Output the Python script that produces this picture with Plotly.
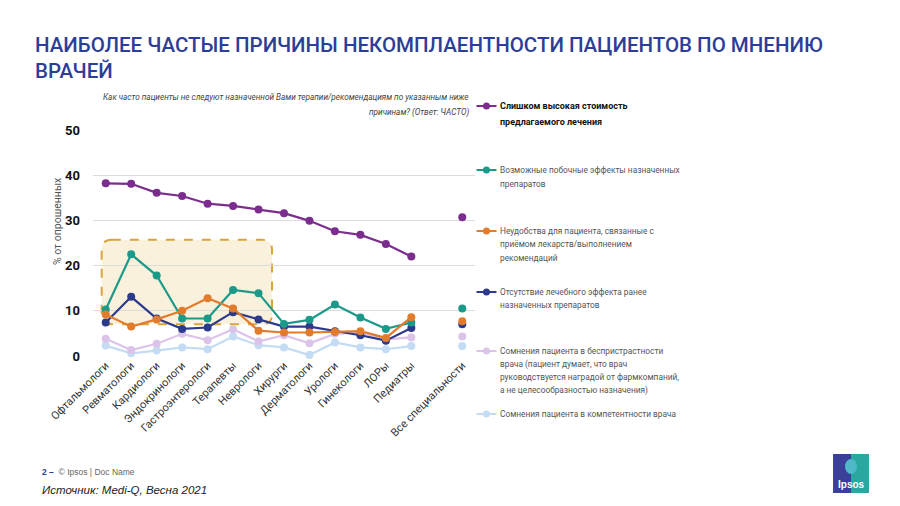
import plotly.graph_objects as go

# ---------------- data ----------------
CATEGORIES = ["Офтальмологи", "Ревматологи", "Кардиологи", "Эндокринологи",
              "Гастроэнтерологи", "Терапевты", "Неврологи", "Хирурги",
              "Дерматологи", "Урологи", "Гинекологи", "ЛОРы", "Педиатры"]
ALL_LABEL = "Все специальности"

SERIES_NAMES = [
    "Слишком высокая стоимость\nпредлагаемого лечения",
    "Возможные побочные эффекты назначенных\nпрепаратов",
    "Неудобства для пациента, связанные с\nприёмом лекарств/выполнением\nрекомендаций",
    "Отсутствие лечебного эффекта ранее\nназначенных препаратов",
    "Сомнения пациента в беспристрастности\nврача (пациент думает, что врач\nруководствуется наградой от фармкомпаний,\nа не целесообразностью назначения)",
    "Сомнения пациента в компетентности врача",
]

cost     = [38.2, 38.1, 36.1, 35.4, 33.7, 33.2, 32.4, 31.6, 29.9, 27.6, 26.8, 24.8, 22.0]
side     = [10.3, 22.5, 17.8, 8.3, 8.3, 14.6, 13.9, 7.1, 8.0, 11.4, 8.5, 6.0, 7.4]
inconv   = [9.2, 6.5, 8.1, 10.0, 12.8, 10.5, 5.6, 5.2, 5.2, 5.3, 5.5, 4.0, 8.6]
noeffect = [7.4, 13.1, 8.3, 6.0, 6.3, 9.7, 8.1, 6.5, 6.5, 5.5, 4.6, 3.4, 6.2]
bias     = [3.8, 1.3, 2.7, 4.9, 3.5, 5.9, 3.2, 4.6, 2.8, 4.9, 5.2, 3.7, 4.1]
compet   = [2.3, 0.6, 1.2, 1.9, 1.5, 4.3, 2.4, 1.9, 0.2, 3.0, 1.9, 1.5, 2.2]

ALL_VALUES = [30.7, 10.5, 7.7, 7.0, 4.3, 2.2]

Y_TICKS = [0, 10, 20, 30, 40, 50]

TITLE_LINES = ["НАИБОЛЕЕ ЧАСТЫЕ ПРИЧИНЫ НЕКОМПЛАЕНТНОСТИ ПАЦИЕНТОВ ПО МНЕНИЮ", "ВРАЧЕЙ"]
SUBTITLE_LINES = ["Как часто пациенты не следуют назначенной Вами терапии/рекомендациям по указанным ниже",
                  "причинам? (Ответ: ЧАСТО)"]

# ---------------- styles ----------------
COLORS = ["#7b2d8e", "#1b9a8a", "#e27c2c", "#2c3a8c", "#dcc3ea", "#c3dbf3"]
SERIES = [cost, side, inconv, noeffect, bias, compet]
DRAW_ORDER = [5, 4, 3, 1, 2, 0]

FONT = "Roboto, Liberation Sans, Arial, sans-serif"
SANS = "Liberation Sans, Arial, sans-serif"

# page coordinates (as seen in the 900x506 window); the html body adds an 8px margin
OFF = 8
W, H = 900 - OFF, 506 - OFF
PL, PR, PT, PB = 93, 475.5, 130, 356          # plot area in page pixels
L, R, T, B = PL - OFF, PR - OFF, PT - OFF, PB - OFF


def xp(px):
    return (px - PL) / (PR - PL)


def yp(py):
    return (PB - py) / (PB - PT)


x_pos = list(range(len(CATEGORIES)))
x_all = len(CATEGORIES) + 1
tick_vals = x_pos + [x_all]
tick_text = CATEGORIES + [ALL_LABEL]

fig = go.Figure()

for i in DRAW_ORDER:
    fig.add_trace(go.Scatter(
        x=x_pos, y=SERIES[i], mode="lines+markers",
        line=dict(color=COLORS[i], width=2.2),
        marker=dict(color=COLORS[i], size=8),
        cliponaxis=False, showlegend=False, hoverinfo="x+y"))
for i in DRAW_ORDER:
    fig.add_trace(go.Scatter(
        x=[x_all], y=[ALL_VALUES[i]], mode="markers",
        marker=dict(color=COLORS[i], size=8),
        cliponaxis=False, showlegend=False))

shapes = []
# highlight box (rounded, dashed) around the first specialities
bx0, bx1, by0, by1 = -0.16, 6.53, 7.0, 25.7
rx, ry = 0.4, 2.2
path = (f"M{bx0+rx},{by1} L{bx1-rx},{by1} Q{bx1},{by1} {bx1},{by1-ry} "
        f"L{bx1},{by0+ry} Q{bx1},{by0} {bx1-rx},{by0} "
        f"L{bx0+rx},{by0} Q{bx0},{by0} {bx0},{by0+ry} "
        f"L{bx0},{by1-ry} Q{bx0},{by1} {bx0+rx},{by1} Z")
shapes.append(dict(type="path", xref="x", yref="y", path=path, layer="below",
                   fillcolor="#faf1dc", line=dict(color="#d9a53a", width=2, dash="dash")))

annotations = []

# legend (manual)
LEG_Y = [106, 170, 231, 292, 351, 414]
LEG_PITCH = [16, 13.5, 13.3, 13, 13, 13]
for i, name in enumerate(SERIES_NAMES):
    y0 = LEG_Y[i]
    shapes.append(dict(type="line", xref="paper", yref="paper",
                       x0=xp(477), x1=xp(497), y0=yp(y0), y1=yp(y0),
                       line=dict(color=COLORS[i], width=2)))
    shapes.append(dict(type="circle", xref="paper", yref="paper",
                       x0=xp(483.5), x1=xp(490.5), y0=yp(y0 + 3.5), y1=yp(y0 - 3.5),
                       fillcolor=COLORS[i], line=dict(width=0)))
    for k, line in enumerate(name.split("\n")):
        txt = f"<b>{line}</b>" if i == 0 else line
        annotations.append(dict(
            xref="paper", yref="paper", x=xp(499), y=yp(y0 + k * LEG_PITCH[i]),
            xanchor="left", yanchor="middle", showarrow=False, text=txt,
            font=dict(family=FONT, size=9 if i == 0 else 8.3,
                      color="#111111" if i == 0 else "#555555")))

# title
for k, line in enumerate(TITLE_LINES):
    annotations.append(dict(xref="paper", yref="paper", x=xp(33), y=yp(45 + k * 26),
                            xanchor="left", yanchor="middle", showarrow=False, text=line,
                            font=dict(family=FONT, size=20.5, color="#2c3e98", weight=500)))

for k, line in enumerate(SUBTITLE_LINES):
    annotations.append(dict(xref="paper", yref="paper", x=xp(471), y=yp(97 + k * 15),
                            xanchor="right", yanchor="middle", showarrow=False,
                            text=f"<i>{line}</i>",
                            font=dict(family=FONT, size=8.2, color="#444444")))

# y axis title
annotations.append(dict(xref="paper", yref="paper", x=xp(57), y=yp(222),
                        xanchor="center", yanchor="middle", showarrow=False,
                        text="% от опрошенных", textangle=-90,
                        font=dict(family=FONT, size=10.5, color="#555555")))

# footer
annotations.append(dict(xref="paper", yref="paper", x=xp(40), y=yp(472),
                        xanchor="left", yanchor="middle", showarrow=False,
                        text="<b><span style='color:#2c3e98'>2 –</span></b>  © Ipsos | Doc Name",
                        font=dict(family=SANS, size=8.5, color="#666666")))
annotations.append(dict(xref="paper", yref="paper", x=xp(40), y=yp(490),
                        xanchor="left", yanchor="middle", showarrow=False,
                        text="<i>Источник: Medi-Q, Весна 2021</i>",
                        font=dict(family=SANS, size=11.5, color="#222222")))

# Ipsos logo
shapes.append(dict(type="rect", xref="paper", yref="paper", x0=xp(834), x1=xp(870),
                   y0=yp(493), y1=yp(454), fillcolor="#3b3f99", line=dict(width=0)))
shapes.append(dict(type="rect", xref="paper", yref="paper", x0=xp(852), x1=xp(870),
                   y0=yp(493), y1=yp(454), fillcolor="#2aa8a0", line=dict(width=0)))
shapes.append(dict(type="circle", xref="paper", yref="paper", x0=xp(846), x1=xp(858),
                   y0=yp(474), y1=yp(459), fillcolor="#4fb9c9", line=dict(width=0)))
annotations.append(dict(xref="paper", yref="paper", x=xp(852), y=yp(484),
                        xanchor="center", yanchor="middle", showarrow=False,
                        text="<b>Ipsos</b>",
                        font=dict(family=SANS, size=10, color="#ffffff")))

fig.update_layout(
    width=W, height=H, autosize=False,
    margin=dict(l=L, r=W - R, t=T, b=H - B, pad=0),
    paper_bgcolor="white", plot_bgcolor="white",
    showlegend=False,
    shapes=shapes, annotations=annotations,
    xaxis=dict(range=[-0.5, len(CATEGORIES) + 1.5], tickmode="array",
               tickvals=tick_vals, ticktext=tick_text, tickangle=-45,
               showgrid=False, zeroline=False, showline=False, ticks="",
               tickfont=dict(family=FONT, size=11, color="#333333")),
    yaxis=dict(range=[0, 50], tickmode="array", tickvals=Y_TICKS,
               showgrid=True, gridcolor="#dcdcdc", gridwidth=1,
               zeroline=False, showline=False, ticks="",
               ticklabelstandoff=12,
               tickfont=dict(family=FONT, size=13, color="#111111", weight="bold")),
)

fig.write_html("out.html")
